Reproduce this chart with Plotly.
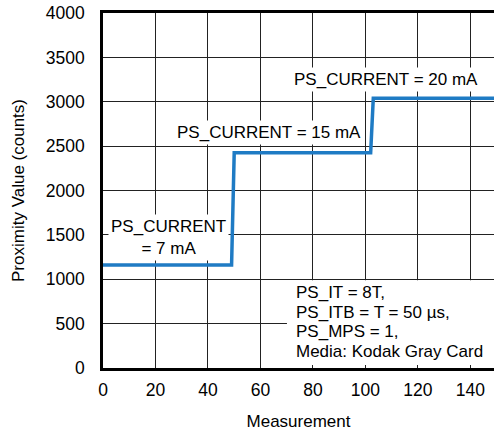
import plotly.graph_objects as go

# data
meas_x = [0, 49, 50, 102, 103, 149]
prox_y = [1160, 1160, 2425, 2425, 3040, 3040]

x_ticks = [0, 20, 40, 60, 80, 100, 120, 140]
y_ticks = [0, 500, 1000, 1500, 2000, 2500, 3000, 3500, 4000]

labels = ["PS_CURRENT = 20 mA", "PS_CURRENT = 15 mA", "PS_CURRENT<br>= 7 mA"]
label_x = [107.8, 63.2, 25.0]
label_y = [3256, 2659, 1476]

info_lines = ["PS_IT = 8T,", "PS_ITB = T = 50 µs,", "PS_MPS = 1,", "Media: Kodak Gray Card"]

FONT = "Liberation Sans, Arial, sans-serif"

fig = go.Figure()
fig.add_trace(go.Scatter(x=meas_x, y=prox_y, mode="lines",
                         line=dict(color="#1f7bc4", width=3.5),
                         showlegend=False, hoverinfo="skip"))

for t, x, y in zip(labels, label_x, label_y):
    fig.add_annotation(x=x, y=y, xref="x", yref="y", text=t, showarrow=False,
                       font=dict(family=FONT, size=17, color="black"),
                       bgcolor="white", borderpad=2, align="center")

# info box background
fig.add_shape(type="rect", xref="x", yref="y", x0=70.1, x1=149, y0=35, y1=990,
              fillcolor="white", line=dict(width=0), layer="between")
for i, t in enumerate(info_lines):
    fig.add_annotation(x=72.8, y=851 - i * 222, xref="x", yref="y", text=t,
                       showarrow=False, xanchor="left", yanchor="middle",
                       font=dict(family=FONT, size=17, color="black"))

fig.update_layout(
    width=494, height=432,
    margin=dict(l=103, r=0, t=13, b=64),
    paper_bgcolor="white", plot_bgcolor="white",
    font=dict(family=FONT, size=17, color="black"),
    showlegend=False,
)
fig.update_xaxes(range=[0, 149], tickvals=x_ticks, ticks="", showgrid=True,
                 gridcolor="#222222", gridwidth=1, showline=True, linecolor="black",
                 linewidth=2.5, mirror=True, zeroline=False,
                 ticklabelstandoff=4, tickfont=dict(size=17.5),
                 title=dict(text="Measurement", font=dict(size=17), standoff=17))
fig.update_yaxes(range=[0, 4000], tickvals=y_ticks, ticks="", showgrid=True,
                 gridcolor="#222222", gridwidth=1, showline=True, linecolor="black",
                 linewidth=2.5, mirror=False, zeroline=False,
                 ticklabelstandoff=12, tickfont=dict(size=17.5),
                 title=dict(text="Proximity Value (counts)", font=dict(size=17), standoff=17))

fig.write_html("out.html", config={"displayModeBar": False},
               post_script="document.body.style.margin='0';document.body.style.padding='0';")
